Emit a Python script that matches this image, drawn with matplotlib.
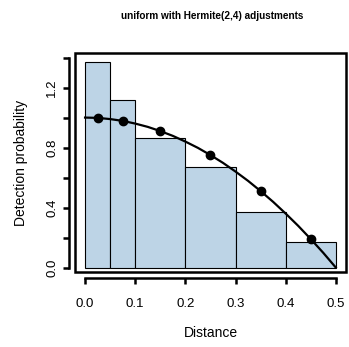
import matplotlib.pyplot as plt
from matplotlib.patches import Rectangle

# histogram of scaled detections (bin edges and heights)
breaks = [0.0, 0.05, 0.1, 0.2, 0.3, 0.4, 0.5]
heights = [1.373, 1.12, 0.867, 0.673, 0.373, 0.173]

# fitted detection function, sampled along distance
curve_x = [0.0, 0.025, 0.05, 0.075, 0.1, 0.125, 0.15, 0.175, 0.2, 0.225, 0.25,
           0.275, 0.3, 0.325, 0.35, 0.375, 0.4, 0.425, 0.45, 0.475, 0.5]
curve_y = [1.0, 0.998, 0.99, 0.978, 0.96, 0.938, 0.91, 0.878, 0.84, 0.798, 0.75,
           0.698, 0.64, 0.578, 0.51, 0.438, 0.36, 0.278, 0.19, 0.098, 0.0]

# fitted values at bin midpoints
pt_x = [0.025, 0.075, 0.15, 0.25, 0.35, 0.45]
pt_y = [0.998, 0.978, 0.91, 0.75, 0.51, 0.19]

plt.rcParams['font.family'] = ['Liberation Sans', 'DejaVu Sans']

fig = plt.figure(figsize=(3.49, 3.47), dpi=100)
ax = fig.add_axes([0.215, 0.216, 0.776, 0.631])

widths = [breaks[i + 1] - breaks[i] for i in range(len(heights))]
ax.bar(breaks[:-1], heights, width=widths, align='edge',
       color='#bdd4e6', edgecolor='black', linewidth=0.8)
ax.plot(curve_x, curve_y, color='black', lw=1.6)
ax.plot(pt_x, pt_y, 'o', color='black', ms=6)

ax.set_xlim(-0.02, 0.52)
ax.set_ylim(-0.03, 1.43)

# box around the plot region, R style
ax.add_patch(Rectangle((0, 0), 1, 1, transform=ax.transAxes, fill=False,
                       lw=1.8, edgecolor='black', clip_on=False, zorder=5))
for s in ['top', 'right']:
    ax.spines[s].set_visible(False)
for s in ['left', 'bottom']:
    ax.spines[s].set_position(('outward', 4))
    ax.spines[s].set_linewidth(1.8)
ax.spines['bottom'].set_bounds(0, 0.5)
ax.spines['left'].set_bounds(0, 1.4)

xt = [0.0, 0.1, 0.2, 0.3, 0.4, 0.5]
ax.set_xticks(xt)
ax.set_xticklabels(['%.1f' % v for v in xt])
yt = [0.0, 0.2, 0.4, 0.6, 0.8, 1.0, 1.2, 1.4]
ax.set_yticks(yt)
ax.set_yticklabels(['0.0', '', '0.4', '', '0.8', '', '1.2', ''],
                   rotation=90, va='center')
ax.tick_params(axis='both', length=4, width=1.8, labelsize=9.5, colors='black')
ax.tick_params(axis='x', pad=11)
ax.tick_params(axis='y', pad=4)

ax.set_xlabel('Distance', fontsize=10, labelpad=11)
ax.set_ylabel('Detection probability', fontsize=10, labelpad=13)
fig.text(0.607, 0.955, 'uniform with Hermite(2,4) adjustments', ha='center',
         va='center', fontsize=7.2, fontweight='bold')

fig.savefig('out.png', dpi=100)
